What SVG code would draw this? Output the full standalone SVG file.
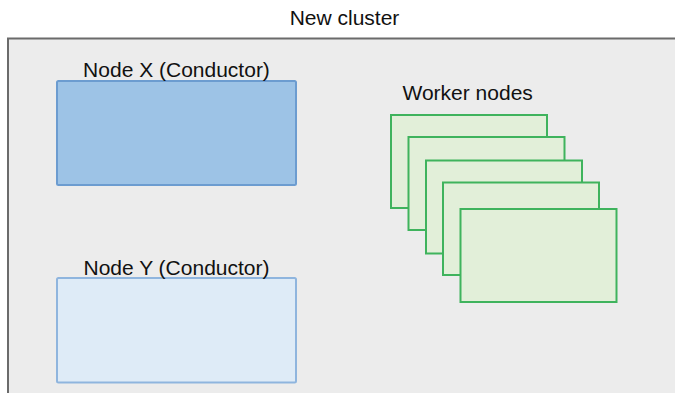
<svg xmlns="http://www.w3.org/2000/svg" width="675" height="393" viewBox="0 0 675 393">
<style>
text{font-family:"Liberation Sans",Arial,sans-serif;font-size:21px;fill:#111;}
.w{fill:#e2efd9;stroke:#3fb35d;stroke-width:2;}
</style>
<rect x="0" y="0" width="675" height="393" fill="#ffffff"/>
<g id="cluster">
<rect x="8" y="38.5" width="680" height="380" fill="#ececec" stroke="#6b6b6b" stroke-width="2"/>
<text x="344.5" y="25" text-anchor="middle">New cluster</text>
</g>
<g id="nodeX">
<rect x="57" y="81" width="239" height="104" rx="1.5" fill="#9dc3e6" stroke="#6c9cd0" stroke-width="2"/>
<text x="176.5" y="77" text-anchor="middle">Node X (Conductor)</text>
</g>
<g id="nodeY">
<rect x="57" y="278" width="239" height="104.5" rx="1.5" fill="#deebf7" stroke="#8fb5de" stroke-width="2"/>
<text x="176.5" y="275" text-anchor="middle">Node Y (Conductor)</text>
</g>
<g id="workers">
<text x="402.5" y="100">Worker nodes</text>
<rect class="w" x="391" y="115" width="156" height="93"/>
<rect class="w" x="408.5" y="137" width="156" height="93"/>
<rect class="w" x="426" y="160.5" width="156" height="93"/>
<rect class="w" x="443" y="182.5" width="156" height="92.5"/>
<rect class="w" x="460.5" y="209" width="156" height="93"/>
</g>
<g id="connectors"></g>
</svg>
